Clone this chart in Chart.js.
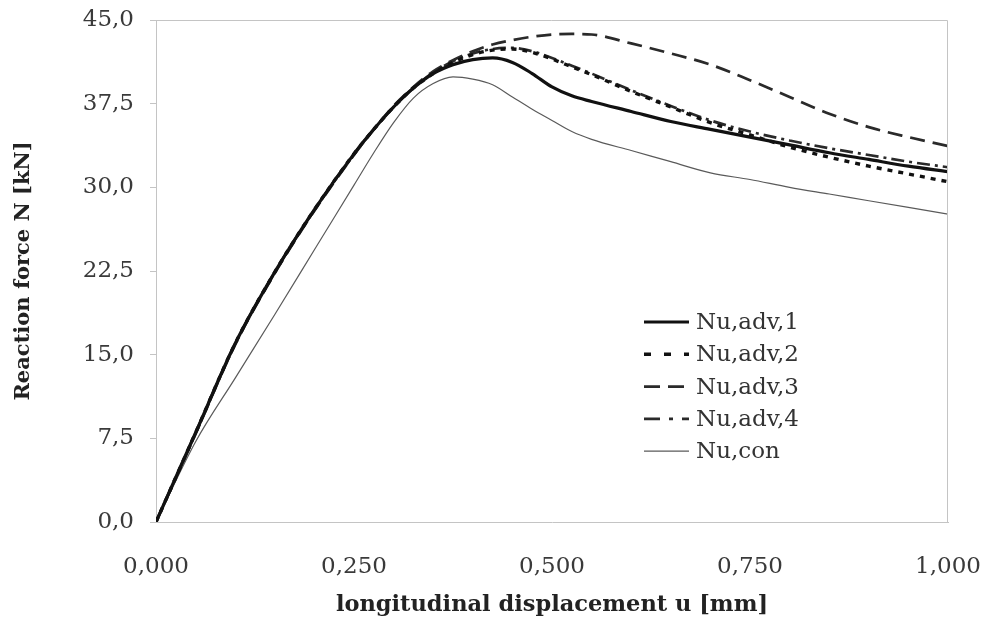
<!DOCTYPE html>
<html>
<head>
<meta charset="utf-8">
<script src="https://cdn.jsdelivr.net/npm/chart.js@4/dist/chart.umd.min.js"></script>
<style>
  html, body { margin: 0; padding: 0; background: #ffffff; }
  #wrap { width: 981px; height: 617px; }
</style>
</head>
<body>
<div id="wrap"><canvas id="c" width="981" height="617"></canvas></div>
<script>
// ---- data ----
const displacement = [0, 0.05, 0.1, 0.15, 0.2, 0.25, 0.275, 0.3, 0.325, 0.35, 0.375, 0.4, 0.425, 0.45, 0.475, 0.5, 0.525, 0.55, 0.6, 0.65, 0.7, 0.75, 0.8, 0.85, 0.9, 0.95, 1.0];
const nuAdv1 = [0, 8.0, 16.0, 22.4, 28.0, 33.0, 35.2, 37.2, 38.9, 40.2, 41.0, 41.45, 41.6, 41.2, 40.2, 39.0, 38.2, 37.7, 36.8, 35.9, 35.2, 34.5, 33.8, 33.1, 32.5, 31.9, 31.4];
const nuAdv2 = [0, 8.0, 16.0, 22.4, 28.0, 33.0, 35.2, 37.2, 38.9, 40.2, 41.2, 41.9, 42.3, 42.4, 42.1, 41.5, 40.8, 40.1, 38.6, 37.2, 35.8, 34.7, 33.6, 32.7, 31.9, 31.2, 30.5];
const nuAdv3 = [0, 7.9, 15.9, 22.3, 27.9, 32.9, 35.2, 37.3, 39.0, 40.4, 41.4, 42.2, 42.8, 43.2, 43.5, 43.7, 43.75, 43.7, 42.9, 42.0, 41.0, 39.6, 38.1, 36.6, 35.4, 34.5, 33.7];
const nuAdv4 = [0, 8.0, 16.0, 22.4, 28.0, 33.0, 35.2, 37.2, 38.9, 40.3, 41.3, 42.0, 42.4, 42.5, 42.2, 41.6, 40.9, 40.2, 38.7, 37.3, 36.0, 35.0, 34.2, 33.5, 32.9, 32.3, 31.8];
const nuCon  = [0, 7.2, 12.9, 18.6, 24.4, 30.2, 33.1, 35.8, 38.0, 39.3, 39.9, 39.7, 39.2, 38.1, 37.0, 36.0, 35.0, 34.3, 33.3, 32.3, 31.3, 30.7, 30.0, 29.4, 28.8, 28.2, 27.6];
const seriesLabels = ['Nu,adv,1', 'Nu,adv,2', 'Nu,adv,3', 'Nu,adv,4', 'Nu,con'];
const xTickValues = [0, 0.25, 0.5, 0.75, 1.0];
const yTickValues = [0, 7.5, 15, 22.5, 30, 37.5, 45];
const xTitle = 'longitudinal displacement u [mm]';
const yTitle = 'Reaction force N [kN]';

const pts = arr => arr.map((v, i) => ({ x: displacement[i], y: v }));
const comma = (v, d) => v.toFixed(d).replace('.', ',');

const styles = [
  { color: '#111111', width: 3.2, dash: [], legendDash: [] },
  { color: '#111111', width: 3.4, dash: [5, 6], legendDash: [7, 13] },
  { color: '#2a2a2a', width: 2.7, dash: [15, 8], legendDash: [16, 8] },
  { color: '#2a2a2a', width: 2.7, dash: [13, 5, 3, 5], legendDash: [16, 9, 4, 9] },
  { color: '#5a5a5a', width: 1.2, dash: [], legendDash: [] }
];
const seriesData = [nuAdv1, nuAdv2, nuAdv3, nuAdv4, nuCon];

const datasets = seriesData.map((arr, i) => ({
  label: seriesLabels[i],
  data: pts(arr),
  borderColor: styles[i].color,
  borderWidth: styles[i].width,
  borderDash: styles[i].dash,
  pointRadius: 0,
  fill: false,
  cubicInterpolationMode: 'monotone'
}));

const serif = '"DejaVu Serif", "Liberation Serif", serif';

const boxPlugin = {
  id: 'boxAndLegend',
  afterDatasetsDraw(chart) {
    const ctx = chart.ctx;
    const a = chart.chartArea;
    ctx.save();
    ctx.strokeStyle = '#c4c4c4';
    ctx.lineWidth = 1;
    ctx.beginPath();
    ctx.moveTo(a.left, a.top + 0.5);
    ctx.lineTo(a.right - 0.5, a.top + 0.5);
    ctx.lineTo(a.right - 0.5, a.bottom);
    ctx.stroke();
    // legend
    const x0 = 644, x1 = 689, tx = 696, y0 = 322, dy = 32.3;
    ctx.font = '23px ' + serif;
    ctx.textBaseline = 'middle';
    ctx.textAlign = 'left';
    chart.data.datasets.forEach((ds, i) => {
      const y = y0 + i * dy;
      ctx.beginPath();
      ctx.strokeStyle = ds.borderColor;
      ctx.lineWidth = ds.borderWidth;
      ctx.setLineDash(styles[i].legendDash);
      ctx.moveTo(x0, y);
      ctx.lineTo(x1, y);
      ctx.stroke();
      ctx.setLineDash([]);
      ctx.fillStyle = '#333333';
      ctx.fillText(ds.label, tx, y + 1);
    });
    ctx.restore();
  }
};

const zeroPad = s => { s.paddingTop = 0; s.paddingBottom = 0; s.paddingLeft = 0; s.paddingRight = 0; };

new Chart(document.getElementById('c'), {
  type: 'line',
  data: { datasets },
  options: {
    responsive: false,
    animation: false,
    layout: { padding: { left: 0, right: 33, top: 20, bottom: 0 } },
    plugins: { legend: { display: false }, tooltip: { enabled: false } },
    scales: {
      x: {
        type: 'linear',
        min: 0, max: 1,
        afterBuildTicks: s => { s.ticks = xTickValues.map(v => ({ value: v })); },
        afterFit: s => { s.height = 95; zeroPad(s); },
        ticks: {
          callback: v => comma(v, 3),
          font: { family: serif, size: 23 },
          color: '#3a3a3a',
          padding: 31,
          maxRotation: 0,
          autoSkip: false
        },
        grid: { display: true, drawOnChartArea: false, drawTicks: false, color: '#c4c4c4' },
        border: { color: '#c4c4c4', width: 1 },
        title: {
          display: true,
          text: xTitle,
          font: { family: serif, size: 22.5, weight: 'bold', lineHeight: 1.05 },
          color: '#222222',
          padding: { top: 0, bottom: 0 }
        }
      },
      y: {
        type: 'linear',
        min: 0, max: 45,
        afterBuildTicks: s => { s.ticks = yTickValues.map(v => ({ value: v })); },
        afterFit: s => { s.width = 156; zeroPad(s); },
        ticks: {
          callback: v => comma(v, 1),
          font: { family: serif, size: 23 },
          color: '#3a3a3a',
          padding: 16
        },
        grid: { display: true, drawOnChartArea: false, drawTicks: true, tickLength: 6, color: '#c4c4c4' },
        border: { color: '#c4c4c4', width: 1 },
        title: {
          display: true,
          text: yTitle,
          font: { family: serif, size: 21, weight: 'bold' },
          color: '#222222',
          padding: { top: 11, bottom: 0 }
        }
      }
    }
  },
  plugins: [boxPlugin]
});
</script>
</body>
</html>
